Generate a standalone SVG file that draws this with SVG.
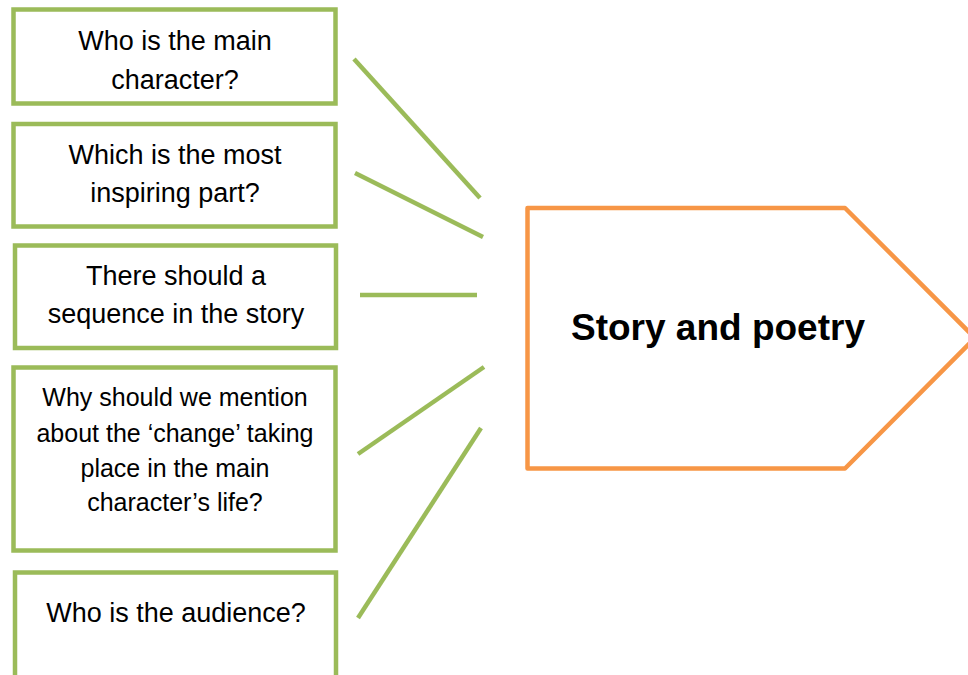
<svg xmlns="http://www.w3.org/2000/svg" width="968" height="675" viewBox="0 0 968 675">
<style>
.box{fill:#fff;stroke:#9BBB59;stroke-width:4.5}
.con{stroke:#9BBB59;stroke-width:4.5;fill:none}
.t{font-family:"Liberation Sans",Arial,sans-serif;font-size:27px;fill:#000;text-anchor:middle}
.s{font-size:25px}
.main{fill:#fff;stroke:#F79646;stroke-width:4.5;stroke-linejoin:round}
.b{font-family:"Liberation Sans",Arial,sans-serif;font-size:37px;font-weight:bold;fill:#000}
</style>
<rect width="968" height="675" fill="#fff"/>
<g id="connectors">
<line class="con" x1="354" y1="59" x2="480" y2="198"/>
<line class="con" x1="355" y1="173" x2="483" y2="237"/>
<line class="con" x1="360" y1="295" x2="477" y2="295"/>
<line class="con" x1="358" y1="454" x2="484" y2="367"/>
<line class="con" x1="358" y1="618" x2="481" y2="428"/>
</g>
<g id="node1">
<rect class="box" x="13.5" y="9.5" width="322" height="94"/>
<text class="t" x="175" y="50">Who is the main</text>
<text class="t" x="175" y="89">character?</text>
</g>
<g id="node2">
<rect class="box" x="13.5" y="124" width="322" height="102.5"/>
<text class="t" x="175" y="164">Which is the most</text>
<text class="t" x="175" y="202">inspiring part?</text>
</g>
<g id="node3">
<rect class="box" x="15" y="245.5" width="321" height="102.5"/>
<text class="t" x="176" y="285">There should a</text>
<text class="t" x="176" y="323">sequence in the story</text>
</g>
<g id="node4">
<rect class="box" x="13.5" y="367.5" width="322" height="183"/>
<text class="t s" x="175" y="406">Why should we mention</text>
<text class="t s" x="175" y="442">about the ‘change’ taking</text>
<text class="t s" x="175" y="477">place in the main</text>
<text class="t s" x="175" y="511">character’s life?</text>
</g>
<g id="node5">
<rect class="box" x="15" y="572.5" width="321" height="120"/>
<text class="t" x="176" y="622">Who is the audience?</text>
</g>
<g id="main">
<polygon class="main" points="527.5,208 845,208 975,338 845,468.5 527.5,468.5"/>
<text class="b" x="571" y="340">Story and poetry</text>
</g>
</svg>
